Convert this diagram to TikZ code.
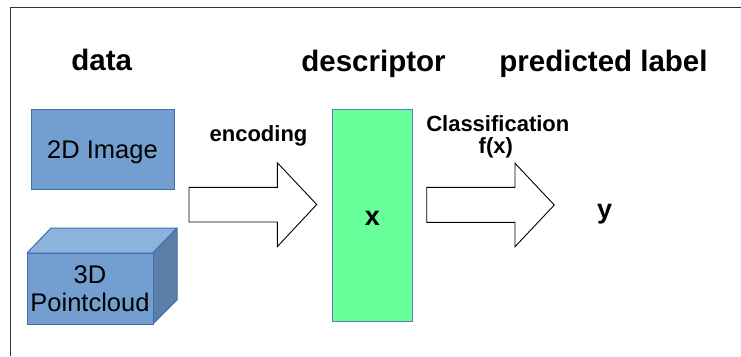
\documentclass[tikz,border=0pt]{standalone}
\usepackage{fontspec}
\setmainfont{Liberation Sans}
\begin{document}
\begin{tikzpicture}[x=1pt,y=-1pt,
  title/.style={font=\fontsize{29.5}{34}\selectfont\bfseries, anchor=base, inner sep=0pt},
  caption/.style={font=\fontsize{22}{26}\selectfont\bfseries, anchor=base, inner sep=0pt},
  boxtext/.style={font=\fontsize{25.5}{28.4}\selectfont, anchor=base, inner sep=0pt},
  symb/.style={font=\fontsize{27}{32}\selectfont\bfseries, anchor=base, inner sep=0pt},
  blockarrow/.style={draw=black, line width=0.9pt, fill=white, line join=miter},
  bluebox/.style={draw=boxedge, line width=1pt, fill=boxfill}]
\definecolor{boxfill}{HTML}{729FCF}
\definecolor{boxedge}{HTML}{3F6FAE}
\definecolor{boxtop}{HTML}{8DB2DC}
\definecolor{boxside}{HTML}{5A7FA8}
\definecolor{descfill}{HTML}{66FF99}
\definecolor{descedge}{HTML}{5F7FB4}
\definecolor{framecol}{HTML}{333333}
\useasboundingbox (0,0) rectangle (741,356);

% frame lines (top and left)
\draw[framecol, line width=1.4pt] (10.5,356) -- (10.5,7.3) -- (741,7.3);

% column headings
\node[title] (hdata) at (101.7,70.5) {data};
\node[title] (hdesc) at (373.5,71) {descriptor};
\node[title] (hlabel) at (603.5,71.5) {predicted label};

% 2D image box
\node[bluebox, minimum width=143pt, minimum height=80pt, inner sep=0pt] (img) at (102.5,149) {};
\node[boxtext] (imgtext) at (102.5,158) {2D Image};

% 3D point cloud box
\coordinate (fa) at (27,253);
\coordinate (fb) at (153,253);
\coordinate (fc) at (153,324);
\coordinate (fd) at (27,324);
\coordinate (ta) at (51,228);
\coordinate (tb) at (177,228);
\coordinate (tc) at (177,300);
\filldraw[boxedge, line width=1pt, fill=boxtop, line join=round] (fa) -- (ta) -- (tb) -- (fb) -- cycle;
\filldraw[boxedge, line width=1pt, fill=boxside, line join=round] (fb) -- (tb) -- (tc) -- (fc) -- cycle;
\filldraw[boxedge, line width=1pt, fill=boxfill] (fa) rectangle (fc);
\node[boxtext] (cloud1) at (90,283.3) {3D};
\node[boxtext] (cloud2) at (90,311.7) {Pointcloud};

% encoding arrow
\filldraw[blockarrow] (189,187.3) -- (277.3,187.3) -- (277.3,162.7) -- (316.7,204.5)
  -- (277.3,246.7) -- (277.3,222) -- (189,222) -- cycle;
\node[caption] (enc) at (258.5,141.5) {encoding};

% descriptor column
\node[draw=descedge, fill=descfill, line width=1pt, minimum width=79.6pt, minimum height=211.7pt, inner sep=0pt] (desc) at (372.5,215.2) {};
\node[symb] (xvar) at (372.5,225) {x};

% classification arrow
\filldraw[blockarrow] (426.7,187.3) -- (515,187.3) -- (515,163.3) -- (554.3,205)
  -- (515,246.7) -- (515,222.3) -- (426.7,222.3) -- cycle;
\node[caption] (cls) at (497.8,131.7) {Classification};
\node[caption] (fx) at (495.8,153.3) {f(x)};

% predicted label
\node[symb] (yvar) at (604.7,218.3) {y};
\end{tikzpicture}
\end{document}
